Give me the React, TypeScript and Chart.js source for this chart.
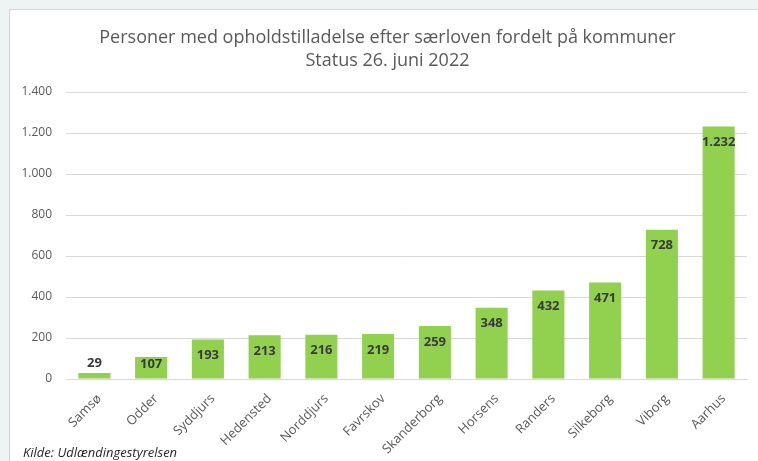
import React, { useEffect, useRef } from "react";
import { Chart, registerables } from "chart.js";

Chart.register(...registerables);

const categories = ["Samsø", "Odder", "Syddjurs", "Hedensted", "Norddjurs", "Favrskov", "Skanderborg", "Horsens", "Randers", "Silkeborg", "Viborg", "Aarhus"];
const values = [29, 107, 193, 213, 216, 219, 259, 348, 432, 471, 728, 1232];
const titleLines = ["Personer med opholdstilladelse efter særloven fordelt på kommuner", "Status 26. juni 2022"];
const sourceText = "Kilde: Udlændingestyrelsen";
const yMax = 1400;
const yStep = 200;

const FONT = "'Open Sans', sans-serif";

function fmt(n: number): string {
  return String(Math.round(n)).replace(/\B(?=(\d{3})+(?!\d))/g, ".");
}

const labelPlugin = {
  id: "barLabels",
  afterDatasetsDraw(chart: any) {
    const ctx = chart.ctx;
    const meta = chart.getDatasetMeta(0);
    ctx.save();
    ctx.font = `bold 13px ${FONT}`;
    ctx.fillStyle = "#3a3a3a";
    ctx.textAlign = "center";
    ctx.textBaseline = "middle";
    meta.data.forEach((bar: any, i: number) => {
      const h = bar.base - bar.y;
      let y: number;
      if (h < 18) y = bar.y - 10;
      else if (h < 34) y = bar.y + 7;
      else y = bar.y + 16;
      ctx.fillText(fmt(values[i]), bar.x, y);
    });
    ctx.restore();
  },
};

export default function App() {
  const ref = useRef<HTMLCanvasElement | null>(null);
  useEffect(() => {
    if (!ref.current) return;
    const chart = new Chart(ref.current, {
      type: "bar",
      data: {
        labels: categories,
        datasets: [
          {
            data: values,
            backgroundColor: "#92d050",
            borderWidth: 0,
            categoryPercentage: 1,
            barPercentage: 0.565,
          },
        ],
      },
      options: {
        responsive: false,
        animation: false,
        layout: { padding: { left: 0, right: 11, top: 82, bottom: 0 } },
        plugins: {
          legend: { display: false },
          tooltip: { enabled: false },
          title: { display: false },
        },
        scales: {
          x: {
            grid: { display: false, drawTicks: false },
            border: { display: true, color: "#d9d9d9", width: 1 },
            ticks: {
              color: "#595959",
              font: { family: FONT, size: 13 },
              minRotation: 45,
              maxRotation: 45,
              padding: 12,
              labelOffset: 5,
            },
            afterFit(scale: any) {
              scale.height = 82;
            },
          },
          y: {
            min: 0,
            max: yMax,
            grid: { color: "#d9d9d9", lineWidth: 1, drawTicks: false },
            border: { display: false },
            ticks: {
              stepSize: yStep,
              color: "#595959",
              font: { family: FONT, size: 12 },
              padding: 14,
              callback: (v: any) => fmt(Number(v)),
            },
            afterFit(scale: any) {
              scale.width = 56;
            },
          },
        },
      },
      plugins: [labelPlugin],
    });
    return () => chart.destroy();
  }, []);

  return (
    <div style={{ position: "fixed", inset: 0, background: "#eef4f4", overflow: "hidden" }}>
      <div
        style={{
          position: "absolute",
          left: 9,
          top: 9,
          width: 770,
          height: 470,
          background: "#ffffff",
          border: "1px solid #d6d6d6",
        }}
      />
      <canvas ref={ref} width={748} height={451} style={{ position: "absolute", left: 10, top: 10 }} />
      <div
        style={{
          position: "absolute",
          left: 0,
          top: 25,
          width: 775,
          textAlign: "center",
          fontFamily: FONT,
          fontSize: 18,
          lineHeight: "23px",
          color: "#595959",
          whiteSpace: "nowrap",
        }}
      >
        {titleLines.map((t) => (
          <div key={t}>{t}</div>
        ))}
      </div>
      <div
        style={{
          position: "absolute",
          left: 23,
          top: 443,
          fontFamily: FONT,
          fontStyle: "italic",
          fontSize: 13,
          color: "#262626",
          whiteSpace: "nowrap",
        }}
      >
        {sourceText}
      </div>
    </div>
  );
}
